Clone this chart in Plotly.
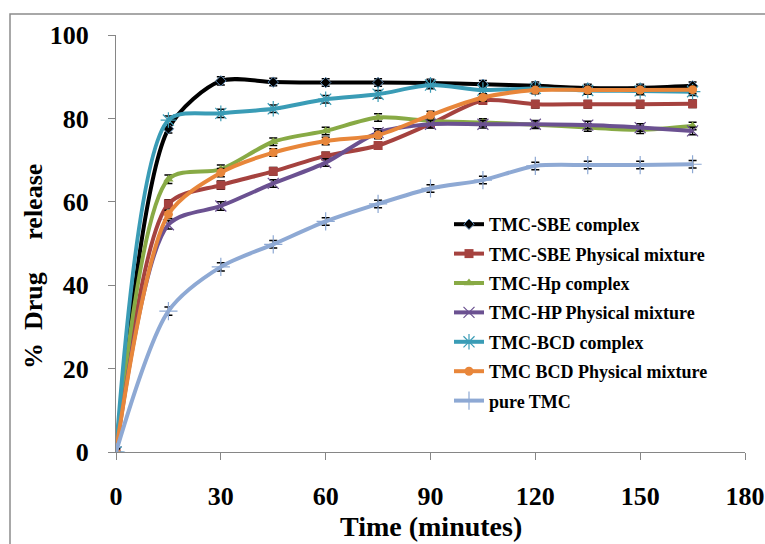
import plotly.graph_objects as go

time_min = [0, 15, 30, 45, 60, 75, 90, 105, 120, 135, 150, 165]

sbe_complex = [0, 77.5, 89.0, 88.7, 88.6, 88.6, 88.5, 88.2, 87.8, 87.3, 87.3, 87.8]
sbe_physical = [0, 59.5, 64.0, 67.3, 71.0, 73.5, 78.7, 84.3, 83.4, 83.4, 83.4, 83.5]
hp_complex = [0, 65.4, 67.8, 74.4, 77.0, 80.2, 79.4, 79.0, 78.5, 77.8, 77.3, 78.2]
hp_physical = [0, 54.5, 59.0, 64.4, 69.4, 76.6, 78.6, 78.6, 78.6, 78.4, 77.8, 77.0]
bcd_complex = [0, 79.6, 81.2, 82.3, 84.6, 85.8, 88.0, 86.8, 87.2, 86.7, 86.6, 86.4]
bcd_physical = [0, 57.0, 67.0, 71.8, 74.6, 76.0, 80.8, 85.0, 86.8, 86.8, 86.8, 86.9]
pure_tmc = [0, 33.8, 44.4, 49.8, 55.3, 59.5, 63.2, 65.2, 68.6, 68.8, 68.8, 69.0]

error_val = [0.8, 1.0, 1.0, 0.9, 0.9, 0.9, 0.9, 0.9, 0.9, 0.9, 0.9, 0.9]

x_ticks = [0, 30, 60, 90, 120, 150, 180]
y_ticks = [0, 20, 40, 60, 80, 100]

series = [
    ("TMC-SBE complex", sbe_complex, "#000000", dict(symbol="diamond", size=8, color="#000000", line=dict(color="#5a86b0", width=1))),
    ("TMC-SBE Physical mixture", sbe_physical, "#A5423F", dict(symbol="square", size=9, color="#A5423F")),
    ("TMC-Hp complex", hp_complex, "#88AA45", dict(symbol="triangle-up", size=9, color="#88AA45")),
    ("TMC-HP Physical mixture", hp_physical, "#6B5191", dict(symbol="x-thin-open", size=11, line=dict(color="#9a86bd", width=1.2))),
    ("TMC-BCD complex", bcd_complex, "#3A9CB6", dict(symbol="asterisk-open", size=13, line=dict(color="#72c4da", width=1.2))),
    ("TMC BCD Physical mixture", bcd_physical, "#E8863A", dict(symbol="circle", size=9, color="#E8863A")),
    ("pure TMC", pure_tmc, "#8EA9D4", dict(symbol="cross-thin-open", size=13, line=dict(color="#8EA9D4", width=1.2))),
]

fig = go.Figure()
for i, (name, vals, col, mk) in enumerate(series):
    fig.add_trace(go.Scatter(
        x=time_min, y=vals, name=name, mode="lines+markers", legendgroup=f"g{i}",
        line=dict(color=col, width=4, shape="spline", smoothing=0.8),
        marker=mk,
        error_y=dict(type="data", array=error_val, color="#000000", thickness=1.5, width=4),
    ))

font_main = "Liberation Serif, Times New Roman, serif"

W, H = 765, 544
L, T, PW, PH = 116, 35, 629, 417  # plot area in page pixels


def px_x(x):
    return (x - L) / PW


def px_y(y):
    return (T + PH - y) / PH


fig.update_layout(
    template="none",
    width=W, height=H,
    margin=dict(l=L, r=W - L - PW, t=T, b=H - T - PH, autoexpand=False),
    paper_bgcolor="white", plot_bgcolor="white",
    showlegend=True,
    legend=dict(
        x=px_x(449), y=px_y(206), xanchor="left", yanchor="top",
        font=dict(family=font_main, size=18, color="#000000", weight="bold"),
        bgcolor="rgba(0,0,0,0)", traceorder="grouped", tracegroupgap=3,
    ),
    xaxis=dict(
        range=[0, 180], tickvals=x_ticks, showgrid=False, zeroline=False, automargin=False,
        showline=True, linecolor="#868686", linewidth=1,
        ticks="outside", ticklen=7, tickcolor="#868686",
        tickfont=dict(family=font_main, size=26, color="#000000", weight="bold"),
        ticklabelstandoff=14,
    ),
    yaxis=dict(
        range=[0, 100], tickvals=y_ticks, showgrid=False, zeroline=False, automargin=False,
        showline=True, linecolor="#868686", linewidth=1,
        ticks="outside", ticklen=7, tickcolor="#868686",
        tickfont=dict(family=font_main, size=26, color="#000000", weight="bold"),
        ticklabelstandoff=14,
    ),
    annotations=[
        dict(text="Time (minutes)", xref="paper", yref="paper", x=0.5, y=px_y(526), xanchor="center", yanchor="middle",
             showarrow=False, font=dict(family=font_main, size=28, color="#000000", weight="bold")),
        dict(text="%\u00a0\u00a0Drug\u00a0\u00a0\u00a0\u00a0\u00a0release", xref="paper", yref="paper",
             x=px_x(33), y=px_y(267), xanchor="center", yanchor="middle", textangle=-90,
             showarrow=False, font=dict(family=font_main, size=26, color="#000000", weight="bold")),
    ],
    shapes=[
        dict(type="rect", xref="paper", yref="paper", x0=px_x(10), x1=px_x(W + 10), y0=px_y(H + 10), y1=px_y(14),
             line=dict(color="#8c8c8c", width=1.5), fillcolor="rgba(0,0,0,0)", layer="below"),
    ],
)

fig.write_html(
    "out.html",
    config={"displayModeBar": False},
    post_script="document.body.style.margin='0';document.body.style.overflow='hidden';",
)
